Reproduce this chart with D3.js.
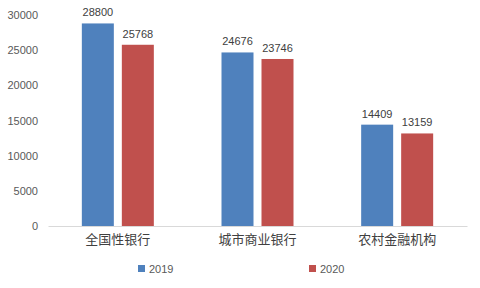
<!DOCTYPE html>
<html><head><meta charset="utf-8">
<script src="https://cdn.jsdelivr.net/npm/d3@7/dist/d3.min.js"></script>
<style>body{margin:0;background:#fff}svg{display:block}</style>
</head><body><svg id="c" width="480" height="288"></svg>
<script>
const categories = ["全国性银行", "城市商业银行", "农村金融机构"];
const seriesNames = ["2019", "2020"];
const values2019 = [28800, 24676, 14409];
const values2020 = [25768, 23746, 13159];
const yTicks = [0, 5000, 10000, 15000, 20000, 25000, 30000];
const colors = ["#4F81BD", "#C0504D"];

const svg = d3.select("#c");
const m = {l: 48, r: 13, t: 15, b: 62};
const W = 480, H = 288;
const x = d3.scaleBand().domain(categories).range([m.l, W - m.r]).paddingInner(0).paddingOuter(0);
const x1 = d3.scaleBand().domain(seriesNames).range([0, 72]).paddingInner(0.2);
const y = d3.scaleLinear().domain([0, 30000]).range([H - m.b, m.t]);

const numFont = "'Liberation Sans', Arial, sans-serif";
const cjkFont = "'Noto Sans CJK SC', sans-serif";

// y axis labels
const ya = svg.append("g").attr("transform", `translate(${m.l},0)`)
  .call(d3.axisLeft(y).tickValues(yTicks).tickSize(0).tickPadding(10).tickFormat(d3.format("d")));
ya.select(".domain").remove();
ya.selectAll("text").attr("font-family", numFont).attr("font-size", 11).attr("fill", "#595959");

const series = [values2019, values2020];
const groups = svg.append("g");
categories.forEach((c, i) => {
  const g = groups.append("g").attr("transform", `translate(${x(c) + (x.bandwidth() - 72) / 2},0)`);
  seriesNames.forEach((s, j) => {
    const v = series[j][i];
    g.append("rect").attr("x", x1(s)).attr("width", x1.bandwidth())
      .attr("y", y(v)).attr("height", y(0) - y(v)).attr("fill", colors[j]);
    g.append("text").attr("x", x1(s) + x1.bandwidth() / 2).attr("y", y(v) - 7)
      .attr("text-anchor", "middle").attr("font-family", numFont).attr("font-size", 11)
      .attr("fill", "#404040").text(v);
  });
});

// x axis
const xa = svg.append("g").attr("transform", `translate(0,${y(0)})`)
  .call(d3.axisBottom(x).tickSize(0).tickPadding(9));
xa.select(".domain").attr("stroke", "#D9D9D9");
xa.selectAll("text").attr("font-family", cjkFont).attr("font-size", 13).attr("fill", "#404040");

// legend
const legX = [138, 309];
seriesNames.forEach((s, j) => {
  const g = svg.append("g").attr("transform", `translate(${legX[j]},265)`);
  g.append("rect").attr("width", 7).attr("height", 7).attr("fill", colors[j]);
  g.append("text").attr("x", 11).attr("y", 7.5).attr("font-family", numFont)
    .attr("font-size", 11).attr("fill", "#595959").text(s);
});
</script></body></html>
